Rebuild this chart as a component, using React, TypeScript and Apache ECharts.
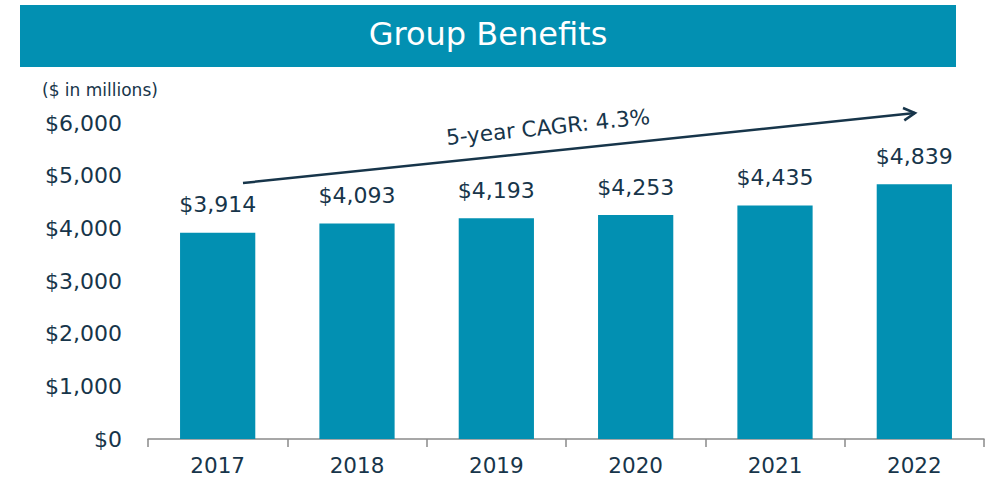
import React, { useEffect, useRef } from "react";
import * as echarts from "echarts";

const categories = ["2017", "2018", "2019", "2020", "2021", "2022"];
const values = [3914, 4093, 4193, 4253, 4435, 4839];
const yTicks = [0, 1000, 2000, 3000, 4000, 5000, 6000];
const titleText = "Group Benefits";
const unitText = "($ in millions)";
const cagrText = "5-year CAGR: 4.3%";

const TEAL = "#0290b2";
const NAVY = "#17354a";
const FONT = "'DejaVu Sans', Lato, sans-serif";

const fmt = (v: number) => "$" + v.toLocaleString("en-US");

export default function App() {
  const ref = useRef<HTMLDivElement>(null);
  useEffect(() => {
    document.body.style.margin = "0";
    const chart = echarts.init(ref.current!, null, { renderer: "svg" });
    const x1 = 243, y1 = 183, x2 = 915, y2 = 113;
    const ang = Math.atan2(y1 - y2, x2 - x1);
    const hl = 13;
    const a1 = ang + Math.PI - 0.5;
    const a2 = ang + Math.PI + 0.5;
    const head = [
      [x2 + hl * Math.cos(a1), y2 - hl * Math.sin(a1)],
      [x2, y2],
      [x2 + hl * Math.cos(a2), y2 - hl * Math.sin(a2)],
    ];
    chart.setOption({
      animation: false,
      textStyle: { fontFamily: FONT },
      grid: { left: 148, right: 4, top: 123, bottom: 40, containLabel: false },
      xAxis: {
        type: "category",
        data: categories,
        axisLine: { lineStyle: { color: "#8a8a8a", width: 1.5 } },
        axisTick: { show: true, length: 8, lineStyle: { color: "#8a8a8a", width: 1.5 } },
        axisLabel: { color: NAVY, fontSize: 21.5, margin: 15, fontFamily: FONT },
      },
      yAxis: {
        type: "value",
        min: yTicks[0],
        max: yTicks[yTicks.length - 1],
        interval: 1000,
        axisLine: { show: false },
        axisTick: { show: false },
        splitLine: { show: false },
        axisLabel: {
          color: NAVY,
          fontSize: 22,
          margin: 26,
          fontFamily: FONT,
          formatter: (v: number) => fmt(v),
        },
      },
      series: [
        {
          type: "bar",
          data: values,
          barWidth: "54%",
          itemStyle: { color: TEAL },
          label: {
            show: true,
            position: "top",
            distance: 17,
            color: NAVY,
            fontSize: 22,
            fontFamily: FONT,
            formatter: (p: any) => fmt(p.value),
          },
        },
      ],
      graphic: [
        {
          type: "rect",
          shape: { x: 20, y: 5, width: 936, height: 62 },
          style: { fill: TEAL },
        },
        {
          type: "text",
          x: 488,
          y: 34,
          style: {
            text: titleText,
            fill: "#ffffff",
            fontSize: 32,
            fontFamily: FONT,
            align: "center",
            verticalAlign: "middle",
          },
        },
        {
          type: "text",
          x: 42,
          y: 90,
          style: {
            text: unitText,
            fill: NAVY,
            fontSize: 17,
            fontFamily: FONT,
            align: "left",
            verticalAlign: "middle",
          },
        },
        {
          type: "line",
          shape: { x1, y1, x2, y2 },
          style: { stroke: NAVY, lineWidth: 2.5 },
        },
        {
          type: "polyline",
          shape: { points: head },
          style: { stroke: NAVY, lineWidth: 2.5, fill: "none" },
        },
        {
          type: "text",
          x: 548,
          y: 127,
          rotation: ang,
          style: {
            text: cagrText,
            fill: NAVY,
            fontSize: 21.5,
            fontFamily: FONT,
            align: "center",
            verticalAlign: "middle",
          },
        },
      ],
    });
    return () => chart.dispose();
  }, []);
  return (
    <div
      ref={ref}
      style={{ position: "fixed", left: 0, top: 0, width: 988, height: 479, background: "#fff" }}
    />
  );
}
